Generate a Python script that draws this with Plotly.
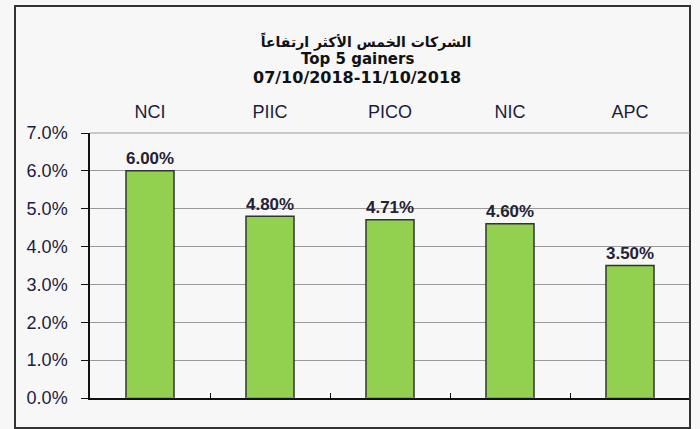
import plotly.graph_objects as go

companies = ["NCI", "PIIC", "PICO", "NIC", "APC"]
gains = [6.00, 4.80, 4.71, 4.60, 3.50]
value_labels = ["6.00%", "4.80%", "4.71%", "4.60%", "3.50%"]
y_ticks = [0, 1, 2, 3, 4, 5, 6, 7]
y_tick_labels = ["0.0%", "1.0%", "2.0%", "3.0%", "4.0%", "5.0%", "6.0%", "7.0%"]

title_ar = "الشركات الخمس الأكثر ارتفاعاً"
title_en = "Top 5 gainers"
title_dates = "07/10/2018-11/10/2018"

bg = "#f7f7f8"
txt = "#1c1c3c"
FONT = "Liberation Sans, Arial"
TFONT = "DejaVu Sans, Liberation Sans"

fig = go.Figure()
fig.add_trace(go.Bar(
    x=companies, y=gains, text=value_labels, textposition="outside",
    texttemplate="<b>%{text}</b>",
    textfont=dict(family=FONT, size=18, color="#222233"),
    marker=dict(color="#92d050", line=dict(color="#333333", width=1.5)),
    cliponaxis=False, xaxis="x", yaxis="y", hoverinfo="skip",
))
fig.add_trace(go.Bar(x=companies, y=[0]*len(companies), xaxis="x2", yaxis="y",
                     marker=dict(color="rgba(0,0,0,0)"), hoverinfo="skip", showlegend=False))

fig.update_layout(
    width=700, height=429,
    margin=dict(l=90, r=10, t=133, b=31),
    paper_bgcolor=bg, plot_bgcolor=bg,
    showlegend=False, bargap=0.6,
    font=dict(family=FONT, size=17, color=txt),
    title=dict(
        text=f"<b>{title_ar}</b>",
        x=366/700, xanchor="center", y=1 - 42/429, yanchor="middle",
        font=dict(family=TFONT, size=14, color="#111111"),
    ),
    annotations=[
        dict(text=f"<b>{title_en}</b>", xref="paper", yref="paper", x=(357-90)/600, y=(398-59)/265,
             xanchor="center", yanchor="middle", showarrow=False,
             font=dict(family=TFONT, size=15, color="#111111")),
        dict(text=f"<b>{title_dates}</b>", xref="paper", yref="paper", x=(357-90)/600, y=(398-77)/265,
             xanchor="center", yanchor="middle", showarrow=False,
             font=dict(family=TFONT, size=16, color="#111111")),
    ],
    xaxis=dict(
        type="category", showticklabels=False, showline=True, linecolor="#111111", linewidth=1.5,
        ticks="inside", ticklen=5, tickcolor="#111111", tickson="boundaries",
        showgrid=False, zeroline=False, range=[-0.5, 4.5],
    ),
    xaxis2=dict(
        type="category", overlaying="x", side="top", showline=False, showgrid=False,
        ticks="", ticklabelstandoff=10, range=[-0.5, 4.5],
        tickfont=dict(family=FONT, size=18, color=txt),
    ),
    yaxis=dict(
        range=[0, 7], tickvals=y_ticks, ticktext=y_tick_labels,
        showline=True, linecolor="#111111", linewidth=1.5,
        ticks="outside", ticklen=7, tickcolor="#111111", ticklabelstandoff=10,
        showgrid=True, gridcolor="#9a9a9a", gridwidth=1, zeroline=False,
        tickfont=dict(family=FONT, size=18, color=txt),
    ),
    shapes=[
        dict(type="rect", xref="paper", yref="paper",
             x0=-0.125, x1=1.0, y0=-0.113, y1=1.479,
             line=dict(color="#333333", width=2), layer="above"),
        dict(type="line", xref="paper", yref="paper", x0=0, x1=1, y0=1, y1=1,
             line=dict(color="#9a9a9a", width=1)),
    ],
)

fig.write_html("out.html")
